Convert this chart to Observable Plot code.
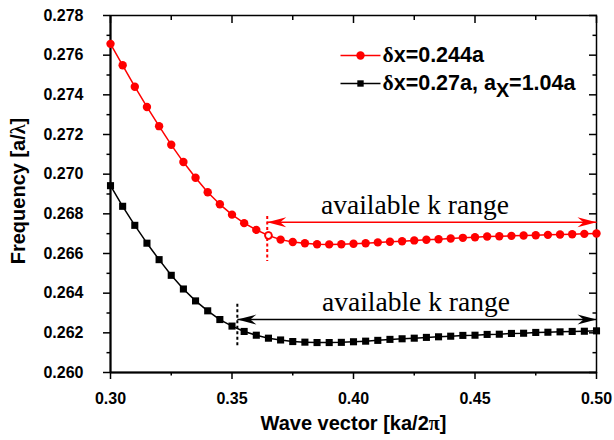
<!DOCTYPE html>
<html><head><meta charset="utf-8">
<script src="https://cdn.jsdelivr.net/npm/d3@7"></script>
<script src="https://cdn.jsdelivr.net/npm/@observablehq/plot@0.6"></script>
<style>
html,body{margin:0;padding:0;background:#fff;}
</style>
</head><body><div id="chart"></div>
<script>
// ---------- data ----------
const waveVector = [0.300,0.305,0.310,0.315,0.320,0.325,0.330,0.335,0.340,0.345,
  0.350,0.355,0.360,0.365,0.370,0.375,0.380,0.385,0.390,0.395,
  0.400,0.405,0.410,0.415,0.420,0.425,0.430,0.435,0.440,0.445,
  0.450,0.455,0.460,0.465,0.470,0.475,0.480,0.485,0.490,0.495,0.500];
const freqRed = [0.27657,0.27549,0.27441,0.27339,0.27242,0.27148,0.27061,0.26982,0.26909,0.26848,
  0.26796,0.26753,0.26719,0.26691,0.26670,0.26658,0.26652,0.26647,0.26646,0.26647,
  0.26649,0.26652,0.26656,0.26659,0.26662,0.26666,0.26669,0.26672,0.26676,0.26679,
  0.26682,0.26686,0.26687,0.26689,0.26691,0.26692,0.26694,0.26696,0.26697,0.26699,0.26701];
const freqBlack = [0.26942,0.26838,0.26742,0.26652,0.26569,0.26490,0.26421,0.26361,0.26311,0.26267,
  0.26234,0.26207,0.26188,0.26173,0.26164,0.26156,0.26153,0.26151,0.26151,0.26152,
  0.26155,0.26158,0.26162,0.26167,0.26170,0.26173,0.26177,0.26180,0.26183,0.26187,
  0.26188,0.26192,0.26193,0.26197,0.26198,0.26202,0.26203,0.26205,0.26207,0.26208,0.26210];
const seriesNames = ["δx=0.244a", "δx=0.27a, aX=1.04a"];
const seriesColors = ["#ff0000", "#000000"];
const openPointK = 0.365;

const xTicks = [0.30, 0.35, 0.40, 0.45, 0.50];
const xMinorTicks = [0.325, 0.375, 0.425, 0.475];
const yTicks = [0.260, 0.262, 0.264, 0.266, 0.268, 0.270, 0.272, 0.274, 0.276, 0.278];
const yMinorTicks = [0.261, 0.263, 0.265, 0.267, 0.269, 0.271, 0.273, 0.275, 0.277];
const xLabel = "Wave vector [ka/2π]";
const yLabel = "Frequency [a/λ]";

// annotations: "available k range"
const rangeLabel = "available k range";
const rangeStart = [0.3645, 0.3522];
const rangeEnd = [0.500, 0.500];
const arrowY = [0.26758, 0.26267];
const dashTop = [0.26786, 0.26344];
const dashBottom = [0.26560, 0.26135];
const labelX = [0.4253, 0.4257];
const labelY = [0.26842, 0.26356];

// ---------- tables ----------
const redRows = waveVector.map((k, i) => ({k, f: freqRed[i]}));
const blackRows = waveVector.map((k, i) => ({k, f: freqBlack[i]}));
const ann = seriesColors.map((c, i) => ({
  color: c, x1: rangeStart[i], x2: rangeEnd[i], y: arrowY[i],
  yTop: dashTop[i], yBot: dashBottom[i], lx: labelX[i], ly: labelY[i]
}));

const arrowHead = {draw(ctx) { ctx.moveTo(0, 0); ctx.lineTo(-19, -5); ctx.lineTo(-13, 0); ctx.lineTo(-19, 5); ctx.closePath(); }};
const legendLine = {draw(ctx) { ctx.moveTo(-20, 0); ctx.lineTo(20, 0); }};

const sans = "'Liberation Sans', Arial, sans-serif";
const serif = "'Liberation Serif', 'Times New Roman', serif";

const svg = Plot.plot({
  width: 614, height: 440,
  marginLeft: 110, marginRight: 18, marginTop: 15, marginBottom: 68,
  x: {domain: [0.3, 0.5], label: null},
  y: {domain: [0.26, 0.278], label: null},
  style: {fontFamily: sans, fontSize: "16px", fontWeight: "bold", color: "#000", background: "#fff"},
  marks: [
    // axes: bottom (outward ticks) with labels
    Plot.axisX(xTicks, {anchor: "bottom", tickSize: 0, tickPadding: 20, tickFormat: d3.format(".2f"), label: null, fontSize: 16, fontWeight: "bold"}),
    Plot.axisX(xTicks, {anchor: "bottom", tickSize: 7, fill: "none", label: null, strokeWidth: 1.5}),
    Plot.axisX(xMinorTicks, {anchor: "bottom", tickSize: 3.5, fill: "none", label: null, strokeWidth: 1.5}),
    // top (inward ticks)
    Plot.axisX(xTicks, {anchor: "top", tickSize: 7, dy: 7, fill: "none", label: null, strokeWidth: 1.5}),
    Plot.axisX(xMinorTicks, {anchor: "top", tickSize: 4, dy: 4, fill: "none", label: null, strokeWidth: 1.5}),
    // left (outward)
    Plot.axisY(yTicks, {anchor: "left", tickSize: 0, tickPadding: 27, tickFormat: d3.format(".3f"), label: null, fontSize: 16, fontWeight: "bold"}),
    Plot.axisY(yTicks, {anchor: "left", tickSize: 7, fill: "none", label: null, strokeWidth: 1.5}),
    Plot.axisY(yMinorTicks, {anchor: "left", tickSize: 3.5, fill: "none", label: null, strokeWidth: 1.5}),
    // right (inward)
    Plot.axisY(yTicks, {anchor: "right", tickSize: 8, dx: -8, fill: "none", label: null, strokeWidth: 1.5}),
    Plot.axisY(yMinorTicks, {anchor: "right", tickSize: 4.5, dx: -4.5, fill: "none", label: null, strokeWidth: 1.5}),
    Plot.frame({stroke: "#000", strokeWidth: 1.5}),
    Plot.ruleX([0.3], {stroke: "#000", strokeWidth: 2}),
    Plot.ruleY([0.26], {stroke: "#000", strokeWidth: 2}),

    // axis titles
    Plot.text([xLabel], {frameAnchor: "bottom", text: d => d, dy: 51, lineAnchor: "middle", fontSize: 20, fontWeight: "bold"}),
    Plot.text([yLabel], {frameAnchor: "left", text: d => d, rotate: -90, dx: -92, dy: -3, lineAnchor: "middle", textAnchor: "middle", fontSize: 20, fontWeight: "bold"}),

    // annotations
    Plot.ruleX(ann, {x: "x1", y1: "yTop", y2: "yBot", stroke: "color", strokeWidth: 2, strokeDasharray: "3,2.5"}),
    Plot.link(ann, {x1: "x1", x2: "x2", y1: "y", y2: "y", stroke: "color", strokeWidth: 1.5}),
    Plot.dot(ann, {x: "x2", y: "y", symbol: arrowHead, fill: "color", stroke: "none", r: 5}),
    Plot.dot(ann, {x: "x1", y: "y", symbol: arrowHead, fill: "color", stroke: "none", r: 5, rotate: 180}),
    Plot.text(ann, {x: "lx", y: "ly", text: () => rangeLabel, fontFamily: serif, fontWeight: "normal", fontSize: 27.5, fill: "#000"}),

    // series
    Plot.line(redRows, {x: "k", y: "f", stroke: seriesColors[0], strokeWidth: 1.5}),
    Plot.dot(redRows, {x: "k", y: "f", fill: seriesColors[0], r: 4.2, stroke: "none"}),
    Plot.dot(redRows.filter(d => d.k === openPointK), {x: "k", y: "f", fill: "#fff", stroke: seriesColors[0], strokeWidth: 1.5, r: 3.2}),
    Plot.line(blackRows, {x: "k", y: "f", stroke: seriesColors[1], strokeWidth: 1.5}),
    Plot.dot(blackRows, {x: "k", y: "f", fill: seriesColors[1], symbol: "square", r: 4, stroke: "none"}),

    // legend
    Plot.dot([seriesNames[0]], {frameAnchor: "top-left", dx: 250, dy: 40, symbol: legendLine, stroke: seriesColors[0], fill: "none", strokeWidth: 1.5}),
    Plot.dot([seriesNames[0]], {frameAnchor: "top-left", dx: 250, dy: 40, fill: seriesColors[0], r: 4.2, stroke: "none"}),
    Plot.text([seriesNames[0]], {frameAnchor: "top-left", dx: 272, dy: 40, text: d => d, textAnchor: "start", lineAnchor: "middle", fontSize: 21.5, fontWeight: "bold"}),
    Plot.dot([seriesNames[1]], {frameAnchor: "top-left", dx: 250, dy: 68, symbol: legendLine, stroke: seriesColors[1], fill: "none", strokeWidth: 1.5}),
    Plot.dot([seriesNames[1]], {frameAnchor: "top-left", dx: 250, dy: 68, fill: seriesColors[1], symbol: "square", r: 3.6, stroke: "none"}),
    Plot.text([seriesNames[1]], {frameAnchor: "top-left", dx: 272, dy: 68, text: d => d, textAnchor: "start", lineAnchor: "middle", fontSize: 21.5, fontWeight: "bold"})
  ]
});

// subscript "X" in the second legend entry, Greek letters in a symbol-like serif face
d3.select(svg).selectAll("text").each(function() {
  const s = this.textContent;
  if (this.querySelector("tspan")) return;
  const t = d3.select(this);
  if (s === seriesNames[1]) {
    const idx = s.indexOf("aX");
    t.text(null);
    t.append("tspan").text(s.slice(0, idx + 1));
    t.append("tspan").attr("dy", "0.35em").attr("font-size", "0.92em").text("X");
    t.append("tspan").attr("dy", "-0.35em").text(s.slice(idx + 2));
  }
});
d3.select(svg).selectAll("text, tspan").each(function() {
  for (const node of Array.from(this.childNodes)) {
    if (node.nodeType !== 3) continue;
    const s = node.nodeValue;
    if (!/[δλπ]/.test(s)) continue;
    const frag = document.createDocumentFragment();
    for (const part of s.split(/([δλπ])/)) {
      if (!part) continue;
      if (/[δλπ]/.test(part)) {
        const ts = document.createElementNS("http://www.w3.org/2000/svg", "tspan");
        ts.setAttribute("font-family", serif);
        ts.textContent = part;
        frag.appendChild(ts);
      } else frag.appendChild(document.createTextNode(part));
    }
    this.replaceChild(frag, node);
  }
});

document.getElementById("chart").appendChild(svg);
</script>
</body></html>
